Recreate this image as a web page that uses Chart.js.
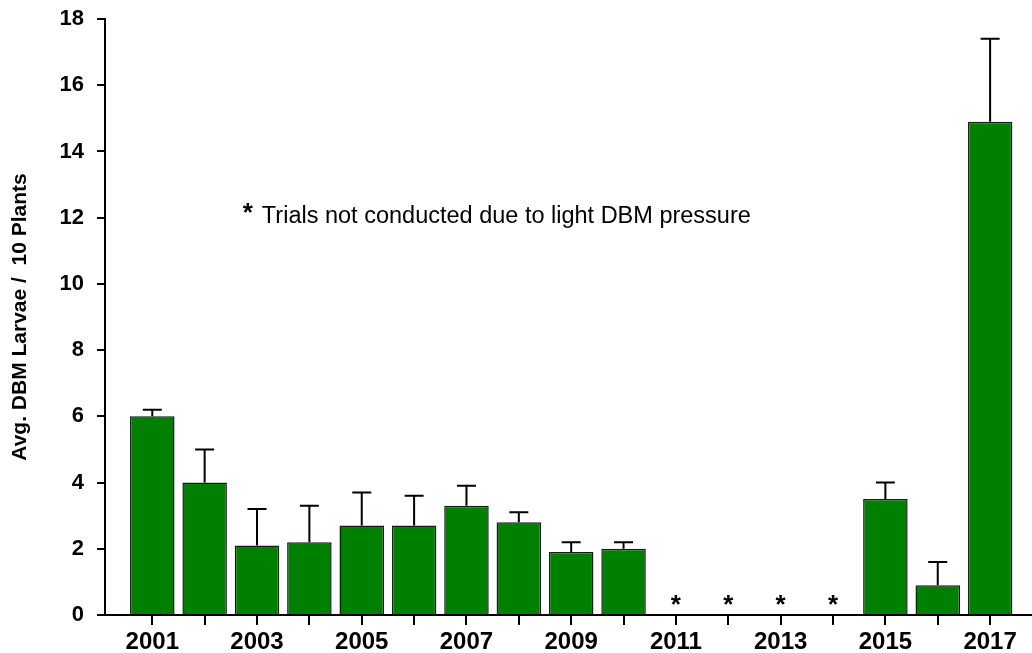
<!DOCTYPE html>
<html>
<head>
<meta charset="utf-8">
<script src="https://cdn.jsdelivr.net/npm/chart.js@4"></script>
<style>
    body { margin: 0; background: #fff; }
    #wrap { width: 1032px; height: 653px; }
</style>
</head>
<body>
<div id="wrap"><canvas id="dbmChart" width="1032" height="653"></canvas></div>
<script>
// data
var years = [2001, 2002, 2003, 2004, 2005, 2006, 2007, 2008, 2009, 2010, 2011, 2012, 2013, 2014, 2015, 2016, 2017];
var larvae = [6.0, 4.0, 2.1, 2.2, 2.7, 2.7, 3.3, 2.8, 1.9, 2.0, null, null, null, null, 3.5, 0.9, 14.9];
var errTop = [6.2, 5.0, 3.2, 3.3, 3.7, 3.6, 3.9, 3.1, 2.2, 2.2, null, null, null, null, 4.0, 1.6, 17.4];
var notConducted = [2011, 2012, 2013, 2014];
var noteText = 'Trials not conducted due to light DBM pressure';

var FONT = 'Arial, "Liberation Sans", sans-serif';

// error bars + asterisks + note
var extrasPlugin = {
    id: 'extras',
    afterDatasetsDraw: function (chart) {
        var ctx = chart.ctx;
        var x = chart.scales.x;
        var y = chart.scales.y;
        var meta = chart.getDatasetMeta(0);

        ctx.save();
        ctx.strokeStyle = '#000';
        ctx.lineWidth = 2;
        meta.data.forEach(function (bar, i) {
            if (errTop[i] == null) return;
            var top = y.getPixelForValue(errTop[i]);
            ctx.beginPath();
            ctx.moveTo(bar.x, bar.y);
            ctx.lineTo(bar.x, top);
            ctx.moveTo(bar.x - 9.5, top);
            ctx.lineTo(bar.x + 9.5, top);
            ctx.stroke();
        });

        ctx.fillStyle = '#000';
        ctx.textAlign = 'center';
        ctx.textBaseline = 'middle';
        ctx.font = 'bold 26px ' + FONT;
        notConducted.forEach(function (yr) {
            ctx.fillText('*', x.getPixelForValue(yr), y.getPixelForValue(0) - 9);
        });

        // footnote
        var nx = x.getPixelForValue(2002.73);
        var ny = y.getPixelForValue(12.1);
        ctx.textAlign = 'left';
        ctx.font = 'bold 26px ' + FONT;
        ctx.fillText('*', nx, ny - 1);
        ctx.font = '23.5px ' + FONT;
        ctx.fillText(noteText, nx + 19, ny + 2);
        ctx.restore();
    }
};

var ctx = document.getElementById('dbmChart').getContext('2d');

var dbmChart = new Chart(ctx, {
    type: 'bar',
    data: {
        datasets: [{
            label: 'Avg. DBM Larvae',
            data: years.map(function (yr, i) { return { x: yr, y: larvae[i] }; }),
            backgroundColor: '#008000',
            borderColor: '#1a1a1a',
            borderWidth: 1.5,
            borderSkipped: 'bottom',
            categoryPercentage: 1,
            barPercentage: 0.85
        }]
    },
    options: {
        responsive: false,
        animation: false,
        layout: { padding: { top: 19, right: 0, left: 0, bottom: 0 } },
        plugins: {
            legend: { display: false },
            tooltip: { enabled: false }
        },
        scales: {
            x: {
                type: 'linear',
                offset: false,
                min: 2000.097,
                max: 2017.8,
                afterBuildTicks: function (scale) {
                    scale.ticks = years.map(function (yr) { return { value: yr }; });
                },
                afterFit: function (scale) {
                    scale.height = 38;
                    scale.paddingLeft = 0;
                    scale.paddingRight = 0;
                },
                ticks: {
                    autoSkip: false,
                    maxRotation: 0,
                    padding: 3,
                    color: '#000',
                    font: { family: FONT, size: 24, weight: 'bold' },
                    callback: function (v) { return v % 2 === 1 ? String(v) : ''; }
                },
                grid: { offset: false, drawOnChartArea: false, drawTicks: true, tickLength: 10, color: '#000', lineWidth: 2 },
                border: { display: true, color: '#000', width: 2 }
            },
            y: {
                min: 0,
                max: 18,
                afterFit: function (scale) {
                    scale.width = 105;
                    scale.paddingTop = 0;
                    scale.paddingBottom = 0;
                },
                ticks: {
                    stepSize: 2,
                    padding: 13,
                    color: '#000',
                    font: { family: FONT, size: 22, weight: 'bold' }
                },
                grid: { drawOnChartArea: false, drawTicks: true, tickLength: 8, color: '#000', lineWidth: 2 },
                border: { display: true, color: '#000', width: 2 },
                title: {
                    display: true,
                    text: 'Avg. DBM Larvae /  10 Plants',
                    color: '#000',
                    padding: { top: 8, bottom: 0 },
                    font: { family: FONT, size: 21, weight: 'bold' }
                }
            }
        }
    },
    plugins: [extrasPlugin]
});
</script>
</body>
</html>
